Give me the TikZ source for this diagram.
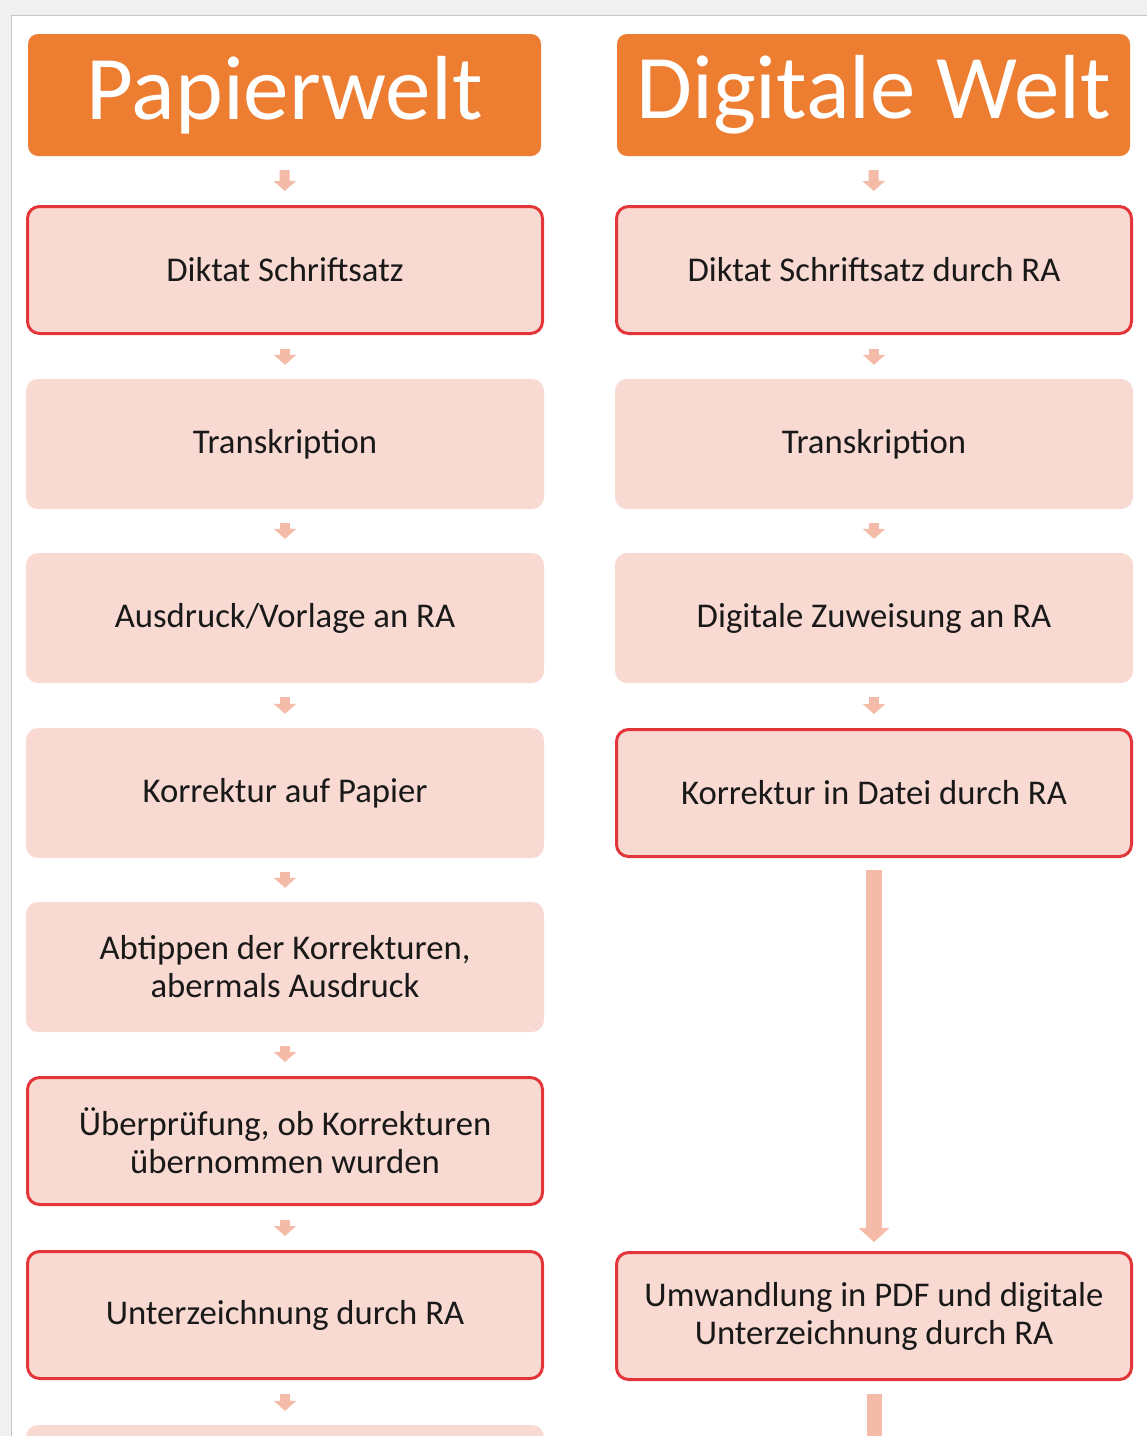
\documentclass[tikz,border=0pt]{standalone}
\usepackage{fontspec}
\setmainfont{Carlito}
\usetikzlibrary{arrows.meta}
\definecolor{headorange}{HTML}{ED7D31}
\definecolor{boxfill}{HTML}{F9DAD2}
\definecolor{boxred}{HTML}{E2363A}
\definecolor{arrowpink}{HTML}{F4BBA8}

\begin{document}
\begin{tikzpicture}[x=1pt,y=1pt,
  head/.style={rectangle,rounded corners=10pt,fill=headorange,text=white,minimum width=513pt,minimum height=122pt,font=\fontsize{91}{100}\selectfont},
  stepbox/.style={rectangle,rounded corners=12pt,fill=boxfill,text=black!90,minimum width=518pt,minimum height=130pt,align=center,font=\fontsize{34.7}{38}\selectfont},
  redbox/.style={stepbox,draw=boxred,line width=3pt,minimum width=515pt,minimum height=127pt},
  flow/.style={arrowpink,line width=10pt,-{Triangle[width=22pt,length=10pt]},shorten <=14pt,shorten >=14pt}]
\clip (0,0) rectangle (1147,-1436);
\fill[gray!12] (0,0) rectangle (1147,-1436);
\fill[white,draw=gray!45,line width=1pt] (11,-15) rectangle (1170,-1460);

\node (L0)[head] at (284.5,-95) {Papierwelt};
\node (R0)[head] at (873.5,-95) {Digitale Welt};

\node (L1)[redbox] at (285,-270) {Diktat Schriftsatz};
\node (L2)[stepbox] at (285,-444) {Transkription};
\node (L3)[stepbox] at (285,-618) {Ausdruck/Vorlage an RA};
\node (L4)[stepbox] at (285,-793) {Korrektur auf Papier};
\node (L5)[stepbox] at (285,-967) {Abtippen der Korrekturen,\\abermals Ausdruck};
\node (L6)[redbox] at (285,-1141) {Überprüfung, ob Korrekturen\\übernommen wurden};
\node (L7)[redbox] at (285,-1315) {Unterzeichnung durch RA};
\node (L8)[stepbox] at (285,-1490) {};

\node (R1)[redbox] at (874,-270) {Diktat Schriftsatz durch RA};
\node (R2)[stepbox] at (874,-444) {Transkription};
\node (R3)[stepbox] at (874,-618) {Digitale Zuweisung an RA};
\node (R4)[redbox] at (874,-793) {Korrektur in Datei durch RA};
\node (R7)[redbox] at (874,-1316) {Umwandlung in PDF und digitale\\Unterzeichnung durch RA};
\coordinate (Rend) at (874,-1470);

% left column
\draw[flow] (L0) -- (L1);
\draw[flow] (L1) -- (L2);
\draw[flow] (L2) -- (L3);
\draw[flow] (L3) -- (L4);
\draw[flow] (L4) -- (L5);
\draw[flow] (L5) -- (L6);
\draw[flow] (L6) -- (L7);
\draw[flow] (L7) -- (L8);

% right column
\draw[flow] (R0) -- (R1);
\draw[flow] (R1) -- (R2);
\draw[flow] (R2) -- (R3);
\draw[flow] (R3) -- (R4);
\draw[arrowpink,line width=16pt,-{Triangle[width=30pt,length=14pt]},shorten <=12pt,shorten >=9pt] (R4) -- (R7);
\draw[arrowpink,line width=15pt,shorten <=13pt] (R7) -- (Rend);
\end{tikzpicture}
\end{document}
